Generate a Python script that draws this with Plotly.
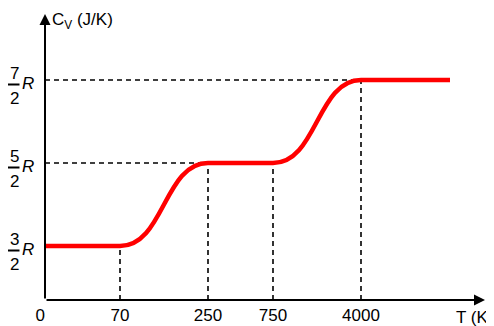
import plotly.graph_objects as go

# schematic x positions of the tick marks and their labels
tick_pos = [0, 75, 163, 228, 316]
tick_text = ["0\u00a0\u00a0", "70", "250", "750", "4000"]

# heat capacity levels in units of R
levels = [1.5, 2.5, 3.5]
level_num = ["3", "5", "7"]

# red curve anchor points (x schematic, y in units of R);
# consecutive anchors are joined by S-shaped steps with flat ends
curve_x = [0, 75, 163, 228, 316, 405]
curve_y = [1.5, 1.5, 2.5, 2.5, 3.5, 3.5]

X0, X1 = 0, 440
Y0, Y1 = 0.85, 4.295

FONT = "Liberation Sans, Arial, sans-serif"

fig = go.Figure()

# dashed guide lines
dash_style = dict(color="black", width=1.6, dash="5px,4px")
shapes = []
shapes.append(dict(type="line", xref="x", yref="y", x0=X0, x1=tick_pos[2], y0=levels[1], y1=levels[1], line=dash_style))
shapes.append(dict(type="line", xref="x", yref="y", x0=X0, x1=tick_pos[4], y0=levels[2], y1=levels[2], line=dash_style))
shapes.append(dict(type="line", xref="x", yref="y", x0=tick_pos[1], x1=tick_pos[1], y0=Y0, y1=levels[0], line=dash_style))
shapes.append(dict(type="line", xref="x", yref="y", x0=tick_pos[2], x1=tick_pos[2], y0=Y0, y1=levels[1], line=dash_style))
shapes.append(dict(type="line", xref="x", yref="y", x0=tick_pos[3], x1=tick_pos[3], y0=Y0, y1=levels[1], line=dash_style))
shapes.append(dict(type="line", xref="x", yref="y", x0=tick_pos[4], x1=tick_pos[4], y0=Y0, y1=levels[2], line=dash_style))

# red curve as a cubic Bezier path through the anchors (horizontal tangents)
path = f"M {curve_x[0]},{curve_y[0]}"
for i in range(1, len(curve_x)):
    xa, ya = curve_x[i - 1], curve_y[i - 1]
    xb, yb = curve_x[i], curve_y[i]
    k = 0.5 * (xb - xa)
    path += f" C {xa + k},{ya} {xb - k},{yb} {xb},{yb}"
shapes.append(dict(type="path", xref="x", yref="y", path=path,
                   line=dict(color="#ff0000", width=4.5), layer="above"))

# invisible trace so the axes exist
fig.add_trace(go.Scatter(x=curve_x, y=curve_y, mode="lines", line=dict(width=0),
                         opacity=0, hoverinfo="skip", showlegend=False))

annotations = []
# axes with arrowheads
annotations.append(dict(x=X1, y=Y0, ax=X0, ay=Y0, xref="x", yref="y", axref="x", ayref="y",
                        showarrow=True, arrowhead=2, arrowsize=1.1, arrowwidth=2, arrowcolor="black", text=""))
annotations.append(dict(x=X0, y=Y1, ax=X0, ay=Y0, xref="x", yref="y", axref="x", ayref="y",
                        showarrow=True, arrowhead=2, arrowsize=1.1, arrowwidth=2, arrowcolor="black", text=""))

# fraction labels n/2 R
for lv, num in zip(levels, level_num):
    annotations.append(dict(x=X0, y=lv, xref="x", yref="y", xshift=-31, yshift=7, text=num,
                            showarrow=False, font=dict(family=FONT, size=17, color="black")))
    annotations.append(dict(x=X0, y=lv, xref="x", yref="y", xshift=-31, yshift=-18, text="2",
                            showarrow=False, font=dict(family=FONT, size=17, color="black")))
    annotations.append(dict(x=X0, y=lv, xref="x", yref="y", xshift=-17, yshift=-3, text="<i>R</i>",
                            showarrow=False, font=dict(family=FONT, size=17, color="black")))
    annotations.append(dict(x=X0, y=lv, xref="x", yref="y", xshift=-32, yshift=-4, text="",
                            showarrow=False, width=12, height=1, bgcolor="black", borderpad=0))

# axis titles
annotations.append(dict(x=X0, y=Y1, xref="x", yref="y", xanchor="left", yanchor="middle",
                        xshift=5, yshift=-7, text="C<sub>V</sub> (J/K)", showarrow=False,
                        font=dict(family=FONT, size=17, color="black")))
annotations.append(dict(x=X1, y=Y0, xref="x", yref="y", xanchor="right", yanchor="middle",
                        xshift=10, yshift=-17, text="T (K)", showarrow=False,
                        font=dict(family=FONT, size=17, color="black")))

fig.update_layout(shapes=shapes, annotations=annotations)

fig.update_xaxes(range=[X0, X1], tickvals=tick_pos, ticktext=tick_text, showgrid=False,
                 zeroline=False, showline=False, ticks="", automargin=False,
                 tickfont=dict(family=FONT, size=17, color="black"),
                 ticklabelstandoff=3, fixedrange=True)
fig.update_yaxes(range=[Y0, Y1], showticklabels=False, showgrid=False, zeroline=False,
                 showline=False, ticks="", automargin=False, fixedrange=True)

# the page body has an 8px default margin, so the figure is 8px smaller
fig.update_layout(
    width=486, height=318,
    margin=dict(l=37, r=9, t=6, b=26),
    plot_bgcolor="white", paper_bgcolor="white",
    showlegend=False,
)

fig.write_html("out.html")
